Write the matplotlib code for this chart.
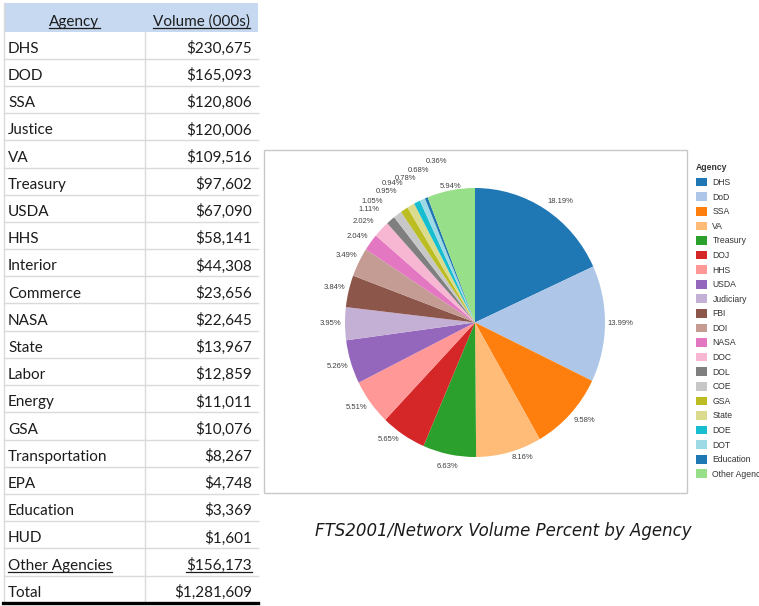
import numpy as np
import matplotlib
matplotlib.use("Agg")
import matplotlib.pyplot as plt
from matplotlib.patches import Rectangle
from matplotlib.lines import Line2D

# ---------------- data ----------------
table_agencies = ["DHS", "DOD", "SSA", "Justice", "VA", "Treasury", "USDA", "HHS",
                  "Interior", "Commerce", "NASA", "State", "Labor", "Energy", "GSA",
                  "Transportation", "EPA", "Education", "HUD", "Other Agencies"]
table_volumes = [230675, 165093, 120806, 120006, 109516, 97602, 67090, 58141,
                 44308, 23656, 22645, 13967, 12859, 11011, 10076,
                 8267, 4748, 3369, 1601, 156173]
table_headers = ["Agency", "Volume (000s)"]

pie_agencies = ["DHS", "DoD", "SSA", "VA", "Treasury", "DOJ", "HHS", "USDA",
                "Judiciary", "FBI", "DOI", "NASA", "DOC", "DOL", "COE", "GSA",
                "State", "DOE", "DOT", "Education", "Other Agencies"]
pie_percents = [18.19, 13.99, 9.58, 8.16, 6.63, 5.65, 5.51, 5.26,
                3.95, 3.84, 3.49, 2.04, 2.02, 1.11, 1.05, 0.95,
                0.94, 0.78, 0.68, 0.36, 5.94]
caption = "FTS2001/Networx Volume Percent by Agency"

# ---------------- style ----------------
tab20 = plt.get_cmap("tab20").colors
pie_color_idx = [0, 1, 2, 3, 4, 6, 7, 8, 9, 10, 11, 12, 13, 14, 15, 16, 17, 18, 19, 0, 5]
pie_colors = [tab20[i] for i in pie_color_idx]
# label placement tweaks (clockwise degrees, radial factor) to avoid overlap
label_shift = [3.4, 0, -2.1, -4.7, 0, 3.9, 1.7, 0, 0, 0, 0, -1.4, -2.8, -3.7, -4.8, -1.8, -2.0, 0, 2.8, 8.0, 0]
label_rad = [1.11, 1.12, 1.11, 1.07, 1.09, 1.095, 1.11, 1.11, 1.11, 1.11, 1.11, 1.11,
             1.14, 1.17, 1.20, 1.19, 1.21, 1.20, 1.21, 1.23, 1.03]

W, H = 759, 606
fig = plt.figure(figsize=(W / 100, H / 100), dpi=100)
fig.patch.set_facecolor("white")

# overlay axes in pixel coordinates (y downward)
bg = fig.add_axes([0, 0, 1, 1])
bg.set_xlim(0, W)
bg.set_ylim(H, 0)
bg.axis("off")

text_color = "#1c1c1c"
grid_color = "#dadada"
tfont = "Lato"
tsize = 11

# ---------------- table ----------------
x_left, x_mid, x_right = 4, 145, 258
header_top, header_bot = 3, 31.5
row_h = 27.2
n_rows = len(table_agencies) + 1  # + total

bg.add_patch(Rectangle((x_left, header_top), x_right - x_left, header_bot - header_top,
                       facecolor="#c6d9f0", edgecolor="none", zorder=0))
renderer = fig.canvas.get_renderer()


def underline(t):
    bb = t.get_window_extent(renderer=renderer)
    inv = bg.transData.inverted()
    (x0, y0), (x1, y1) = inv.transform([(bb.x0, bb.y0), (bb.x1, bb.y0)])
    return x0, x1


def put(x, y, s, ha, ul=False):
    t = bg.text(x, y, s, ha=ha, va="baseline", fontsize=tsize, family=tfont,
                color=text_color, zorder=3)
    if ul:
        x0, x1 = underline(t)
        bg.add_line(Line2D([x0, x1], [y + 1.8, y + 1.8], color=text_color, lw=0.9, zorder=3))
    return t


put((x_left + x_mid) / 2, header_bot - 5.5, table_headers[0], "center", ul=True)
put((x_mid + x_right) / 2, header_bot - 5.5, table_headers[1], "center", ul=True)

labels = table_agencies + ["Total"]
vals = table_volumes + [sum(table_volumes)]
for i, (lab, v) in enumerate(zip(labels, vals)):
    top = header_bot + i * row_h
    bot = top + row_h
    base = bot - 5.8
    is_other = lab == "Other Agencies"
    put(x_left + 4, base, lab, "left", ul=is_other)
    put(x_right - 6, base, "${:,}".format(v), "right", ul=is_other)
    if i < n_rows - 1:
        bg.add_line(Line2D([x_left, x_right], [bot, bot], color=grid_color, lw=1.0, zorder=1))

table_bottom = header_bot + n_rows * row_h
bg.add_line(Line2D([x_mid, x_mid], [header_bot, table_bottom], color=grid_color, lw=1.0, zorder=1))
bg.add_line(Line2D([x_left, x_left], [header_top, table_bottom], color=grid_color, lw=1.0, zorder=1))
bg.add_line(Line2D([x_left - 1, x_right], [table_bottom, table_bottom], color="black", lw=2.4, zorder=2))

# ---------------- pie panel ----------------
bg.add_patch(Rectangle((264, 150), 687 - 264, 493 - 150, facecolor="none",
                       edgecolor="#c8c8c8", lw=1.0, zorder=1))

cx, cy, rx, ry = 475, 322.5, 130, 134.5
pax = fig.add_axes([(cx - rx) / W, (H - cy - ry) / H, 2 * rx / W, 2 * ry / H])
wedges, _ = pax.pie(pie_percents, colors=pie_colors, startangle=90, counterclock=False,
                    radius=1, wedgeprops=dict(linewidth=0))
pax.set_aspect("auto")
pax.set_xlim(-1, 1)
pax.set_ylim(-1, 1)
pax.axis("off")

for w, p, sh, rf in zip(wedges, pie_percents, label_shift, label_rad):
    ang = np.deg2rad((w.theta1 + w.theta2) / 2 - sh)
    pax.text(rf * np.cos(ang), rf * np.sin(ang), "{:.2f}%".format(p), ha="center",
             va="center", fontsize=5.5, family="Liberation Sans", color="#404040",
             clip_on=False)

leg = pax.legend(wedges, pie_agencies, title="Agency", loc="upper left",
                 bbox_to_anchor=(696 / W, 1 - 163.5 / H), bbox_transform=fig.transFigure,
                 frameon=False, prop=dict(family="Liberation Sans", size=6.2),
                 title_fontproperties=dict(family="Liberation Sans", size=6.2, weight="bold"),
                 handlelength=1.22, handleheight=1.17, handletextpad=0.68,
                 labelspacing=0.62, borderpad=0, borderaxespad=0, alignment="left")
for t in leg.get_texts():
    t.set_color("#333333")
leg.get_title().set_color("#333333")

# ---------------- caption ----------------
bg.text(503.5, 536, caption, ha="center", va="baseline", fontsize=12,
        family="DejaVu Sans", style="italic", color=text_color)

fig.savefig("out.png", dpi=100, facecolor="white")
